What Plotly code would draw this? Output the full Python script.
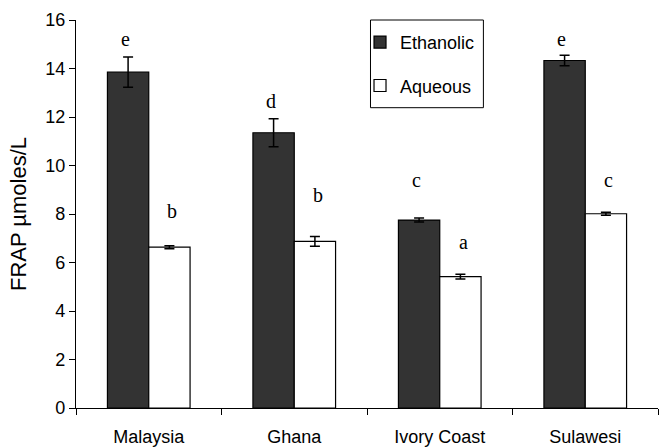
import plotly.graph_objects as go

categories = ["Malaysia", "Ghana", "Ivory Coast", "Sulawesi"]
ethanolic = [13.85, 11.35, 7.75, 14.33]
ethanolic_err = [0.62, 0.58, 0.08, 0.22]
aqueous = [6.63, 6.87, 5.42, 8.01]
aqueous_err = [0.06, 0.2, 0.1, 0.06]
eth_letters = ["e", "d", "c", "e"]
aq_letters = ["b", "b", "a", "c"]
eth_letter_y = [15.23, 12.65, 9.42, 15.2]
aq_letter_y = [8.11, 8.8, 6.83, 9.42]

fig = go.Figure()
fig.add_trace(go.Bar(
    x=categories, y=ethanolic, name="Ethanolic", legendgroup="g1",
    marker=dict(color="#333333", line=dict(color="black", width=1.2)),
    error_y=dict(type="data", array=ethanolic_err, color="black", thickness=1.5, width=5),
))
fig.add_trace(go.Bar(
    x=categories, y=aqueous, name="Aqueous", legendgroup="g2",
    marker=dict(color="white", line=dict(color="black", width=1.2)),
    error_y=dict(type="data", array=aqueous_err, color="black", thickness=1.5, width=5),
))

letter_font = dict(family="Liberation Serif, Times New Roman, serif", size=20, color="black")
for i in range(len(categories)):
    fig.add_annotation(x=i - 0.16, y=eth_letter_y[i], text=eth_letters[i], showarrow=False,
                       font=letter_font, xref="x", yref="y")
    fig.add_annotation(x=i + 0.16, y=aq_letter_y[i], text=aq_letters[i], showarrow=False,
                       font=letter_font, xref="x", yref="y")

# legend box
fig.add_shape(type="rect", xref="paper", yref="paper", x0=0.506, x1=0.700, y0=0.774, y1=1.0,
              line=dict(color="black", width=1), fillcolor="rgba(0,0,0,0)")

fig.update_layout(
    width=659, height=448,
    margin=dict(l=76, r=1, t=20, b=40),
    paper_bgcolor="white", plot_bgcolor="white",
    barmode="group", bargap=0.432, bargroupgap=0,
    font=dict(family="Liberation Sans, Arial, sans-serif", size=18, color="black"),
    showlegend=True,
    legend=dict(x=0.488, y=0.99, xanchor="left", yanchor="top", bgcolor="rgba(0,0,0,0)",
                borderwidth=0, tracegroupgap=17, traceorder="grouped", itemwidth=30,
                font=dict(family="Liberation Sans, Arial, sans-serif", size=18)),
    xaxis=dict(
        type="category", range=[-0.5, 3.5], showline=True, linecolor="black", linewidth=1.2,
        ticks="outside", tickson="boundaries", ticklen=6, tickcolor="black",
        ticklabelstandoff=12, showgrid=False, zeroline=False,
    ),
    yaxis=dict(
        range=[0, 16], dtick=2, showline=True, linecolor="black", linewidth=1.2,
        ticks="outside", ticklen=6, tickcolor="black", showgrid=False, zeroline=False,
        title=dict(text="FRAP µmoles/L", standoff=12),
    ),
)

fig.write_html("out.html")
